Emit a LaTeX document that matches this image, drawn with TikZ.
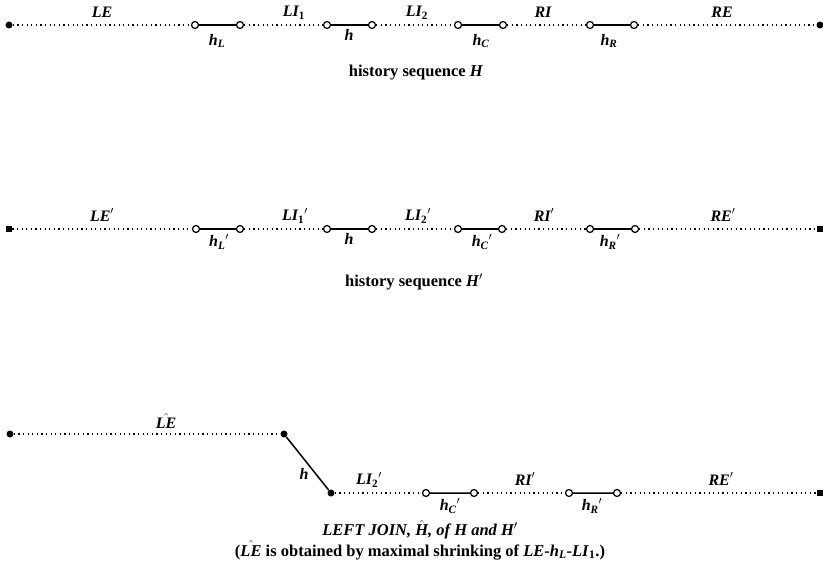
\documentclass[tikz,border=0pt]{standalone}
\usepackage{fontspec}
\setmainfont{Liberation Serif}
\newcommand{\sbs}[1]{\textsubscript{#1}}
\newcommand{\hatbox}[1]{\ensuremath{\hat{\mbox{#1}}}}
\begin{document}
\begin{tikzpicture}[x=1pt,y=-1pt,
  font=\fontsize{16.5}{18}\selectfont\bfseries,
  endc/.style={circle,fill,inner sep=0pt,minimum size=7pt},
  ends/.style={rectangle,fill,inner sep=0pt,minimum size=6.5pt},
  open/.style={circle,draw,line width=1.2pt,fill=white,inner sep=0pt,minimum size=7pt},
  dotline/.style={line width=1.2pt,dash pattern=on 1.2pt off 3.4pt},
  seg/.style={line width=1.5pt},
  lab/.style={inner sep=0pt,font=\fontsize{16}{18}\selectfont\bfseries\itshape},
  captext/.style={inner sep=0pt,align=center}]
\useasboundingbox (0,0) rectangle (823,575);

% ---------- history sequence H ----------
\node[endc] (a0) at (9,25) {};
\node[open] (a1) at (195,25) {};
\node[open] (a2) at (240,25) {};
\node[open] (a3) at (327,25) {};
\node[open] (a4) at (372,25) {};
\node[open] (a5) at (458,25) {};
\node[open] (a6) at (503,25) {};
\node[open] (a7) at (590,25) {};
\node[open] (a8) at (634,25) {};
\node[endc] (a9) at (820,25) {};
\draw[dotline] (a0) -- (a1) (a2) -- (a3) (a4) -- (a5) (a6) -- (a7) (a8) -- (a9);
\draw[seg] (a1) -- (a2) (a3) -- (a4) (a5) -- (a6) (a7) -- (a8);
\node[lab] (l1) at (102,12) {LE};
\node[lab] (l2) at (217,41) {h\sbs{L}};
\node[lab] (l3) at (294,13) {LI\sbs{\upshape 1}};
\node[lab] (l4) at (349,35) {h};
\node[lab] (l5) at (417,13) {LI\sbs{\upshape 2}};
\node[lab] (l6) at (481,41) {h\sbs{C}};
\node[lab] (l7) at (543,12) {RI};
\node[lab] (l8) at (609,41) {h\sbs{R}};
\node[lab] (l9) at (722,12) {RE};
\node[captext] (c1) at (416,73) {history sequence \textit{H}};

% ---------- history sequence H' ----------
\node[ends] (b0) at (9,229) {};
\node[open] (b1) at (196,229) {};
\node[open] (b2) at (240,229) {};
\node[open] (b3) at (327,229) {};
\node[open] (b4) at (372,229) {};
\node[open] (b5) at (458,229) {};
\node[open] (b6) at (502,229) {};
\node[open] (b7) at (590,229) {};
\node[open] (b8) at (635,229) {};
\node[ends] (b9) at (820,229) {};
\draw[dotline] (b0) -- (b1) (b2) -- (b3) (b4) -- (b5) (b6) -- (b7) (b8) -- (b9);
\draw[seg] (b1) -- (b2) (b3) -- (b4) (b5) -- (b6) (b7) -- (b8);
\node[lab] (m1) at (102,215) {LE$'$};
\node[lab] (m2) at (219,242) {h\sbs{L}$'$};
\node[lab] (m3) at (295,216) {LI\sbs{\upshape 1}$'$};
\node[lab] (m4) at (349,239) {h};
\node[lab] (m5) at (418,216) {LI\sbs{\upshape 2}$'$};
\node[lab] (m6) at (482,242) {h\sbs{C}$'$};
\node[lab] (m7) at (544,215) {RI$'$};
\node[lab] (m8) at (610,242) {h\sbs{R}$'$};
\node[lab] (m9) at (723,215) {RE$'$};
\node[captext] (c2) at (414,282) {history sequence \textit{H$'$}};

% ---------- left join ----------
\node[endc] (j0) at (10,434) {};
\node[endc] (j1) at (284,434) {};
\node[endc] (j2) at (331,493) {};
\node[open] (j3) at (426,493) {};
\node[open] (j4) at (474,493) {};
\node[open] (j5) at (569,493) {};
\node[open] (j6) at (617,493) {};
\node[ends] (j7) at (820,493) {};
\draw[dotline] (j0) -- (j1) (j2) -- (j3) (j4) -- (j5) (j6) -- (j7);
\draw[seg] (j1) -- (j2) (j3) -- (j4) (j5) -- (j6);
\node[lab] (n1) at (166,421) {\hatbox{\itshape LE}};
\node[lab] (n2) at (304,474) {h};
\node[lab] (n3) at (369,480) {LI\sbs{\upshape 2}$'$};
\node[lab] (n4) at (450,506) {h\sbs{C}$'$};
\node[lab] (n5) at (525,479) {RI$'$};
\node[lab] (n6) at (592,506) {h\sbs{R}$'$};
\node[lab] (n7) at (721,479) {RE$'$};
\node[captext] (c3) at (420,540) {\itshape LEFT JOIN, \hatbox{\itshape H}, of H and H$'$\\[1pt]
  (\hatbox{\itshape LE} is obtained by maximal shrinking of \textit{LE}-\textit{h}\sbs{\itshape L}-\textit{LI}\sbs{1}.)};
\end{tikzpicture}
\end{document}
